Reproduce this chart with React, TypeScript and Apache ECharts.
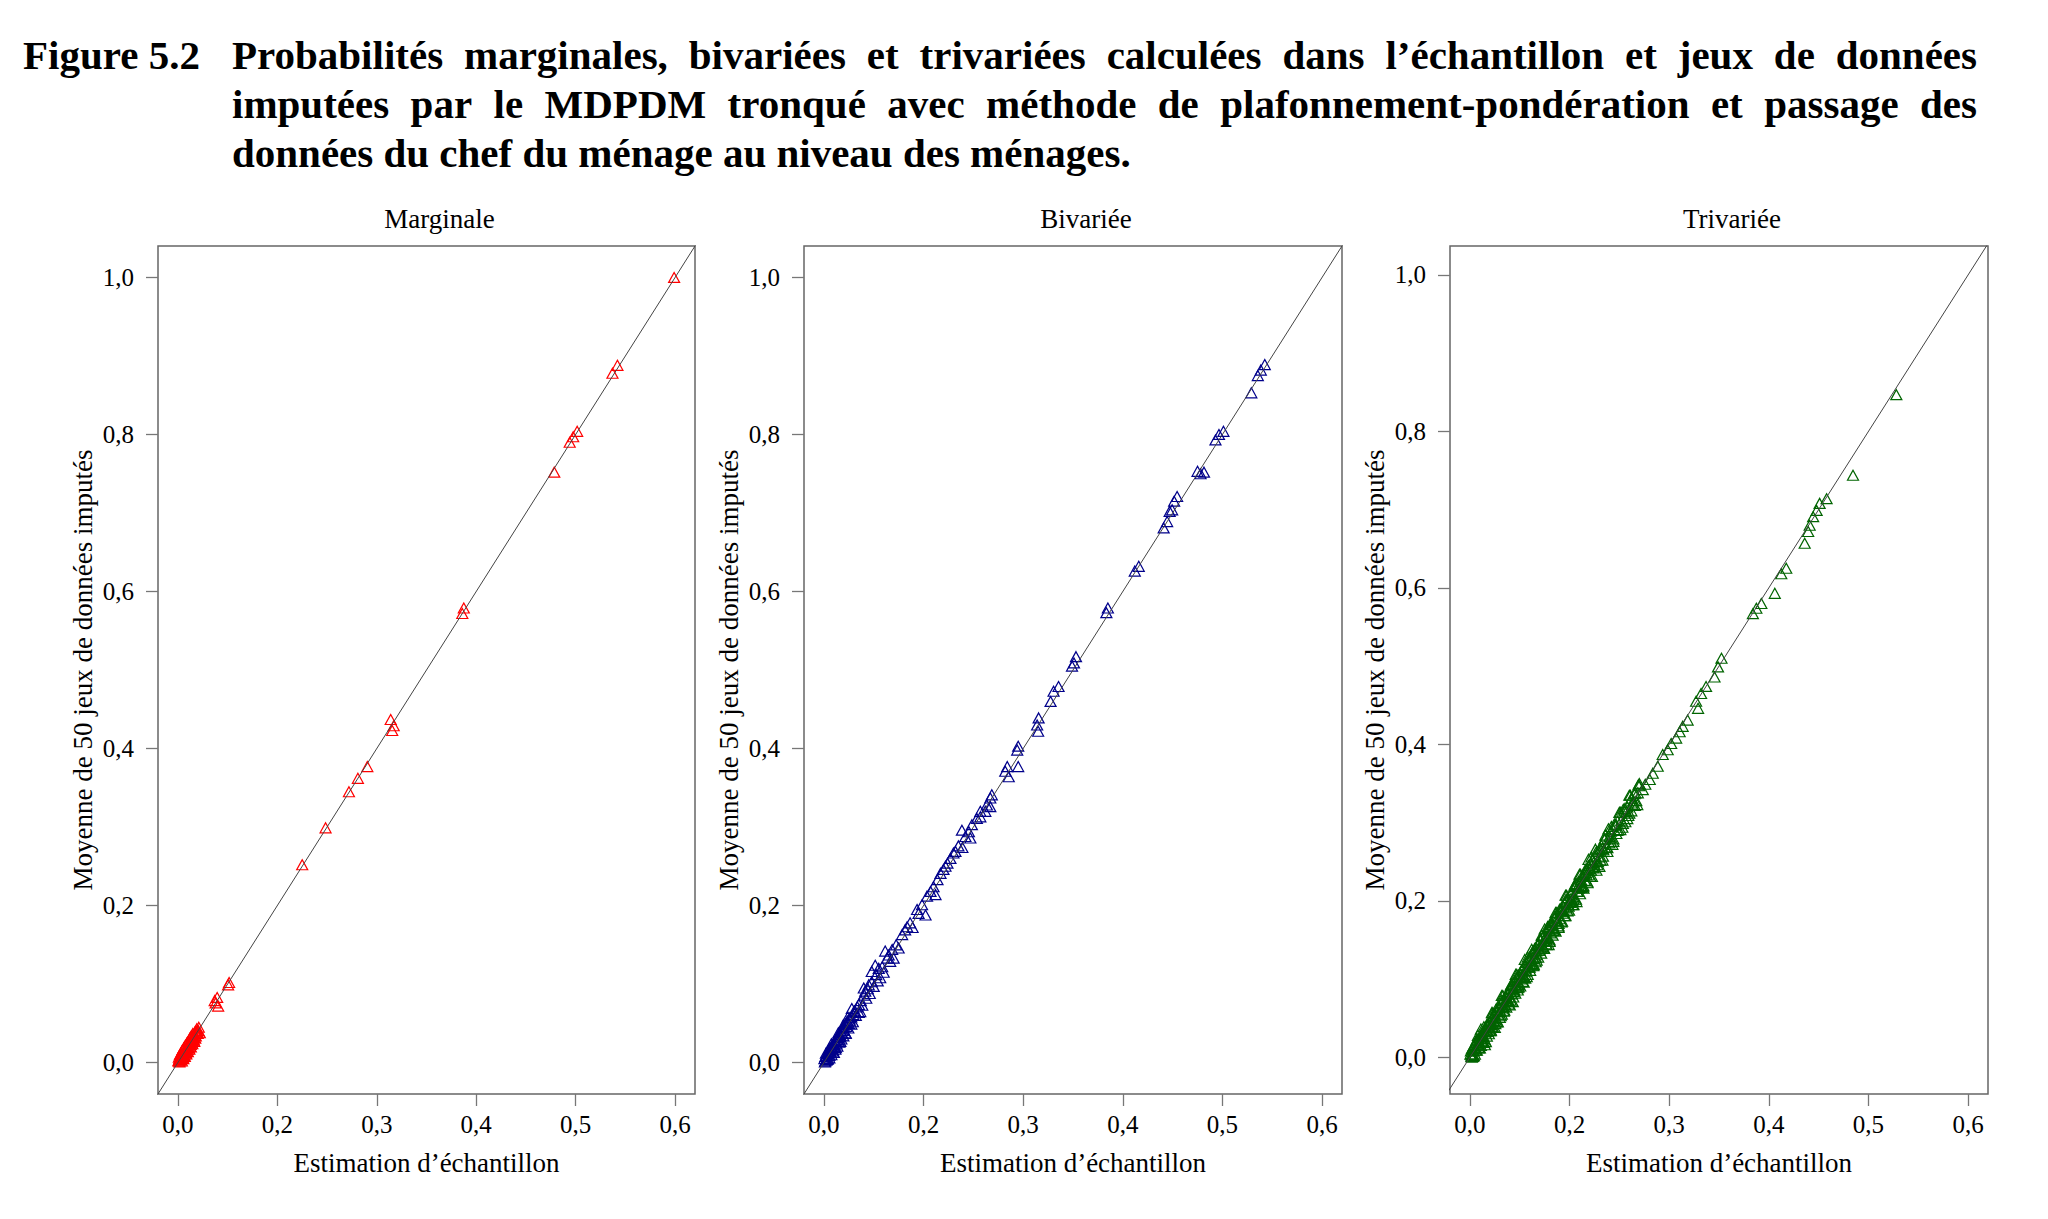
import React, { useEffect, useRef } from "react";
import * as echarts from "echarts";

// ---- Texts ----
const figureLabel = "Figure 5.2";
const captionLines = [
  "Probabilités marginales, bivariées et trivariées calculées dans l’échantillon et jeux de données",
  "imputées par le MDPDM tronqué avec méthode de plafonnement-pondération et passage des",
  "données du chef du ménage au niveau des ménages.",
];
const panelTitles = ["Marginale", "Bivariée", "Trivariée"];
const xAxisTitle = "Estimation d’échantillon";
const yAxisTitle = "Moyenne de 50 jeux de données imputés";

// ---- Ticks ----
const tickValues = [0, 0.2, 0.4, 0.6, 0.8, 1.0];
const xTickLabels = ["0,0", "0,2", "0,3", "0,4", "0,5", "0,6"];
const yTickLabels = ["0,0", "0,2", "0,4", "0,6", "0,8", "1,0"];

// ---- Data: [sample estimate, mean over imputed sets] ----
const marginal: [number, number][] = [
  [0.998, 1.0],
  [0.884, 0.888], [0.874, 0.878],
  [0.803, 0.804], [0.795, 0.797], [0.788, 0.79],
  [0.757, 0.752],
  [0.575, 0.579], [0.572, 0.572],
  [0.428, 0.437], [0.434, 0.429], [0.431, 0.423],
  [0.381, 0.377], [0.362, 0.362], [0.344, 0.345],
  [0.297, 0.299], [0.25, 0.252],
  [0.103, 0.102], [0.101, 0.099],
  [0.079, 0.083], [0.076, 0.076], [0.081, 0.072], [0.074, 0.079],
  [0.001, 0.002], [0.002, 0.007], [0.003, 0.001], [0.004, 0.01], [0.005, 0.004],
  [0.006, 0.012], [0.007, 0.006], [0.008, 0.002], [0.009, 0.016], [0.01, 0.01],
  [0.011, 0.005], [0.012, 0.019], [0.013, 0.013], [0.014, 0.008], [0.015, 0.022],
  [0.016, 0.016], [0.017, 0.011], [0.018, 0.025], [0.019, 0.02], [0.02, 0.014],
  [0.021, 0.027], [0.022, 0.023], [0.023, 0.017], [0.024, 0.031], [0.025, 0.026],
  [0.026, 0.02], [0.027, 0.034], [0.028, 0.029], [0.029, 0.024], [0.03, 0.037],
  [0.032, 0.032], [0.033, 0.027], [0.035, 0.04], [0.036, 0.034], [0.038, 0.043],
  [0.04, 0.037], [0.042, 0.045],
  [0.002, 0.003], [0.003, 0.005], [0.004, 0.002], [0.005, 0.007], [0.006, 0.004],
  [0.007, 0.009], [0.008, 0.006], [0.009, 0.011], [0.01, 0.007], [0.011, 0.013],
  [0.012, 0.009], [0.013, 0.015], [0.014, 0.011], [0.015, 0.017], [0.016, 0.013],
  [0.017, 0.019], [0.018, 0.015], [0.019, 0.021], [0.02, 0.017], [0.021, 0.023],
  [0.022, 0.019], [0.023, 0.025], [0.024, 0.021], [0.025, 0.027], [0.026, 0.023],
  [0.027, 0.029], [0.028, 0.025], [0.029, 0.031], [0.03, 0.027], [0.031, 0.033],
  [0.032, 0.029], [0.034, 0.035], [0.035, 0.031], [0.037, 0.038], [0.039, 0.04],
  [0.041, 0.041], [0.044, 0.038],
];

const bivariate: [number, number][] = [
  [0.885, 0.889], [0.877, 0.882], [0.871, 0.875], [0.858, 0.853],
  [0.802, 0.804], [0.793, 0.8], [0.786, 0.793],
  [0.763, 0.752], [0.756, 0.75], [0.75, 0.753],
  [0.709, 0.721], [0.703, 0.715], [0.699, 0.704], [0.694, 0.702],
  [0.689, 0.689], [0.682, 0.681],
  [0.632, 0.632], [0.624, 0.626],
  [0.57, 0.579], [0.567, 0.573],
  [0.506, 0.517], [0.502, 0.509], [0.498, 0.505],
  [0.471, 0.479], [0.461, 0.473], [0.455, 0.46],
  [0.431, 0.439], [0.428, 0.43], [0.43, 0.422],
  [0.39, 0.403], [0.388, 0.398],
  [0.368, 0.377], [0.364, 0.371], [0.39, 0.377], [0.371, 0.364],
  [0.337, 0.341], [0.334, 0.337], [0.327, 0.328],
  [0.324, 0.32], [0.334, 0.326], [0.314, 0.313], [0.314, 0.32], [0.307, 0.311],
  [0.297, 0.303], [0.291, 0.294], [0.284, 0.288], [0.294, 0.286], [0.277, 0.296],
  [0.26, 0.267], [0.254, 0.26], [0.264, 0.269],
  [0.244, 0.25], [0.234, 0.241], [0.24, 0.246],
  [0.22, 0.224], [0.214, 0.218], [0.224, 0.214],
  [0.197, 0.201], [0.187, 0.195], [0.204, 0.188], [0.19, 0.19],
  [0.163, 0.169], [0.157, 0.163], [0.167, 0.173],
  [0.137, 0.144], [0.13, 0.137], [0.14, 0.133], [0.123, 0.142], [0.133, 0.129],
  [0.11, 0.12], [0.103, 0.124], [0.113, 0.108], [0.096, 0.116],
  [0.09, 0.099], [0.083, 0.091], [0.08, 0.095],
  [0.07, 0.074], [0.063, 0.065], [0.059, 0.061], [0.056, 0.069], [0.073, 0.065],
  [0.052, 0.057], [0.05, 0.05], [0.047, 0.053], [0.045, 0.046], [0.043, 0.049],
  [0.04, 0.041], [0.038, 0.045], [0.036, 0.038], [0.034, 0.04], [0.032, 0.033],
  [0.03, 0.036], [0.028, 0.029], [0.026, 0.032], [0.025, 0.024], [0.023, 0.028],
  [0.021, 0.02], [0.019, 0.025], [0.018, 0.016], [0.016, 0.021], [0.014, 0.013],
  [0.012, 0.018], [0.011, 0.009], [0.009, 0.014], [0.008, 0.005], [0.006, 0.011],
  [0.005, 0.003], [0.003, 0.008], [0.002, 0.001], [0.001, 0.005], [0.004, 0.012],
  [0.01, 0.017], [0.015, 0.024], [0.02, 0.013], [0.024, 0.019], [0.029, 0.038],
  [0.033, 0.027], [0.039, 0.048], [0.044, 0.037], [0.048, 0.058], [0.055, 0.049],
  [0.003, 0.002], [0.005, 0.009], [0.007, 0.004], [0.009, 0.012], [0.011, 0.006],
  [0.013, 0.015], [0.015, 0.01], [0.017, 0.019], [0.019, 0.013], [0.021, 0.023],
  [0.023, 0.017], [0.025, 0.029], [0.027, 0.021], [0.029, 0.032], [0.031, 0.026],
  [0.033, 0.035], [0.035, 0.03], [0.037, 0.041], [0.039, 0.034], [0.041, 0.045],
  [0.043, 0.038], [0.046, 0.051], [0.049, 0.044], [0.052, 0.054], [0.055, 0.058],
  [0.058, 0.052], [0.061, 0.066], [0.064, 0.06], [0.067, 0.071], [0.07, 0.064],
  [0.074, 0.079], [0.077, 0.073], [0.081, 0.086], [0.085, 0.082], [0.088, 0.094],
  [0.092, 0.088], [0.096, 0.103], [0.1, 0.097], [0.105, 0.112], [0.108, 0.104],
  [0.117, 0.122], [0.12, 0.115], [0.127, 0.133], [0.145, 0.15], [0.15, 0.146],
  [0.173, 0.178], [0.178, 0.172], [0.207, 0.212], [0.228, 0.233], [0.248, 0.254],
  [0.27, 0.276], [0.278, 0.274],
];

const trivariate: [number, number][] = [
  [0.856, 0.847],
  [0.769, 0.744],
  [0.716, 0.714], [0.702, 0.708], [0.696, 0.699], [0.689, 0.691], [0.682, 0.68],
  [0.679, 0.672], [0.672, 0.657],
  [0.635, 0.625], [0.625, 0.618], [0.612, 0.593],
  [0.585, 0.58], [0.575, 0.574], [0.568, 0.567],
  [0.505, 0.51], [0.498, 0.499], [0.491, 0.486],
  [0.474, 0.474], [0.464, 0.465], [0.454, 0.455], [0.458, 0.446],
  [0.437, 0.431], [0.427, 0.423], [0.421, 0.416], [0.414, 0.408], [0.404, 0.401],
  [0.397, 0.393], [0.387, 0.387],
  [0.377, 0.372], [0.367, 0.363], [0.361, 0.355], [0.347, 0.342], [0.337, 0.338],
  [0.327, 0.325], [0.32, 0.312], [0.307, 0.299], [0.294, 0.286], [0.28, 0.274],
  [0.267, 0.257], [0.26, 0.244],
  [0.001, 0.004], [0.003, 0.001], [0.004, 0.011], [0.006, 0.002], [0.007, 0.008],
  [0.008, 0.014], [0.01, 0.004], [0.011, 0.011], [0.012, 0.019], [0.014, 0.009],
  [0.015, 0.016], [0.016, 0.023], [0.018, 0.012], [0.019, 0.018], [0.02, 0.026],
  [0.022, 0.015], [0.023, 0.021], [0.024, 0.031], [0.026, 0.019], [0.027, 0.027],
  [0.028, 0.034], [0.03, 0.022], [0.031, 0.031], [0.032, 0.038], [0.034, 0.027],
  [0.035, 0.033], [0.037, 0.043], [0.038, 0.03], [0.039, 0.037], [0.041, 0.047],
  [0.042, 0.034], [0.043, 0.042], [0.045, 0.051], [0.046, 0.039], [0.048, 0.046],
  [0.049, 0.056], [0.051, 0.043], [0.052, 0.05], [0.054, 0.06], [0.055, 0.046],
  [0.057, 0.055], [0.058, 0.064], [0.06, 0.051], [0.061, 0.059], [0.063, 0.07],
  [0.064, 0.055], [0.066, 0.063], [0.067, 0.073], [0.069, 0.06], [0.07, 0.068],
  [0.072, 0.079], [0.073, 0.064], [0.075, 0.072], [0.076, 0.083], [0.078, 0.068],
  [0.079, 0.077], [0.081, 0.088], [0.082, 0.073], [0.084, 0.081], [0.085, 0.092],
  [0.087, 0.077], [0.088, 0.086], [0.09, 0.097], [0.091, 0.082], [0.093, 0.091],
  [0.095, 0.102], [0.096, 0.086], [0.098, 0.095], [0.1, 0.107], [0.101, 0.091],
  [0.103, 0.1], [0.105, 0.112], [0.106, 0.097], [0.108, 0.104], [0.11, 0.118],
  [0.111, 0.101], [0.113, 0.11], [0.115, 0.123], [0.116, 0.106], [0.118, 0.115],
  [0.12, 0.128], [0.121, 0.111], [0.123, 0.12], [0.125, 0.133], [0.127, 0.117],
  [0.128, 0.126], [0.13, 0.139], [0.132, 0.122], [0.134, 0.131], [0.136, 0.144],
  [0.137, 0.128], [0.139, 0.137], [0.141, 0.15], [0.143, 0.133], [0.145, 0.142],
  [0.147, 0.155], [0.149, 0.139], [0.151, 0.148], [0.153, 0.161], [0.154, 0.144],
  [0.156, 0.153], [0.158, 0.166], [0.16, 0.15], [0.162, 0.159], [0.164, 0.172],
  [0.166, 0.156], [0.168, 0.165], [0.17, 0.178], [0.172, 0.161], [0.174, 0.171],
  [0.176, 0.184], [0.178, 0.168], [0.18, 0.177], [0.183, 0.19], [0.185, 0.174],
  [0.187, 0.184], [0.19, 0.197], [0.192, 0.181], [0.194, 0.191], [0.197, 0.204],
  [0.199, 0.188], [0.201, 0.198], [0.204, 0.211], [0.206, 0.195], [0.208, 0.205],
  [0.211, 0.218], [0.213, 0.202], [0.216, 0.212], [0.218, 0.225], [0.221, 0.209],
  [0.223, 0.219], [0.226, 0.232], [0.228, 0.216], [0.231, 0.226], [0.234, 0.24],
  [0.236, 0.223], [0.239, 0.233], [0.242, 0.248], [0.245, 0.231], [0.248, 0.242],
  [0.251, 0.257], [0.254, 0.239], [0.257, 0.25], [0.262, 0.266], [0.266, 0.252],
  [0.271, 0.279], [0.276, 0.263], [0.283, 0.289], [0.288, 0.279], [0.296, 0.302],
  [0.302, 0.291], [0.311, 0.318], [0.316, 0.305], [0.324, 0.331], [0.331, 0.322],
  [0.34, 0.347], [0.352, 0.349],
  [0.004, 0.0], [0.008, 0.015], [0.012, 0.009], [0.016, 0.028], [0.02, 0.012],
  [0.024, 0.026], [0.028, 0.039], [0.032, 0.02], [0.036, 0.041], [0.04, 0.034],
  [0.044, 0.057], [0.048, 0.047], [0.052, 0.061], [0.056, 0.045], [0.06, 0.064],
  [0.064, 0.079], [0.068, 0.059], [0.072, 0.072], [0.076, 0.082], [0.08, 0.067],
  [0.084, 0.094], [0.088, 0.084], [0.092, 0.106], [0.096, 0.089], [0.1, 0.103],
  [0.104, 0.112], [0.108, 0.096], [0.112, 0.113], [0.116, 0.128], [0.12, 0.115],
  [0.124, 0.138], [0.128, 0.118], [0.132, 0.128], [0.136, 0.143], [0.14, 0.137],
  [0.144, 0.156], [0.148, 0.14], [0.152, 0.154], [0.156, 0.167], [0.16, 0.148],
  [0.164, 0.169], [0.168, 0.162], [0.172, 0.185], [0.176, 0.175], [0.18, 0.189],
  [0.184, 0.173], [0.188, 0.192], [0.192, 0.207], [0.196, 0.187], [0.2, 0.2],
  [0.204, 0.21], [0.208, 0.195], [0.212, 0.222], [0.216, 0.212], [0.22, 0.234],
  [0.224, 0.217], [0.228, 0.231], [0.232, 0.24], [0.236, 0.224], [0.24, 0.241],
  [0.244, 0.256], [0.248, 0.243], [0.252, 0.266], [0.256, 0.246], [0.26, 0.256],
  [0.264, 0.271], [0.268, 0.265], [0.272, 0.284], [0.276, 0.268], [0.28, 0.282],
  [0.284, 0.295], [0.288, 0.276], [0.292, 0.297], [0.296, 0.29], [0.3, 0.313],
  [0.304, 0.303], [0.308, 0.317], [0.312, 0.301], [0.316, 0.32], [0.32, 0.335],
  [0.324, 0.315], [0.328, 0.328], [0.332, 0.338], [0.336, 0.323], [0.34, 0.35],
  [0.002, 0.008], [0.006, 0.001], [0.01, 0.011], [0.014, 0.023], [0.018, 0.013],
  [0.022, 0.036], [0.026, 0.024], [0.03, 0.016], [0.034, 0.042], [0.038, 0.041],
  [0.042, 0.035], [0.046, 0.057], [0.05, 0.038], [0.054, 0.059], [0.058, 0.058],
  [0.062, 0.053], [0.066, 0.079], [0.07, 0.067], [0.074, 0.081], [0.078, 0.072],
  [0.082, 0.092], [0.086, 0.071], [0.09, 0.092], [0.094, 0.106], [0.098, 0.09],
  [0.102, 0.106], [0.106, 0.105], [0.11, 0.125], [0.114, 0.103], [0.118, 0.124],
  [0.122, 0.118], [0.126, 0.135], [0.13, 0.136], [0.134, 0.124], [0.138, 0.139],
  [0.142, 0.151], [0.146, 0.141], [0.15, 0.164], [0.154, 0.152], [0.158, 0.144],
  [0.162, 0.17], [0.166, 0.169], [0.17, 0.163], [0.174, 0.185], [0.178, 0.166],
  [0.182, 0.187], [0.186, 0.186], [0.19, 0.181], [0.194, 0.207], [0.198, 0.195],
  [0.202, 0.209], [0.206, 0.2], [0.21, 0.22], [0.214, 0.199], [0.218, 0.22],
  [0.222, 0.234], [0.226, 0.218], [0.23, 0.234], [0.234, 0.233], [0.238, 0.253],
  [0.242, 0.231], [0.246, 0.252], [0.25, 0.246], [0.254, 0.263], [0.258, 0.264],
  [0.262, 0.252], [0.266, 0.267], [0.27, 0.279], [0.274, 0.269], [0.278, 0.292],
  [0.282, 0.28], [0.286, 0.272], [0.29, 0.298], [0.294, 0.297], [0.298, 0.291],
  [0.302, 0.313], [0.306, 0.294], [0.31, 0.315], [0.314, 0.314], [0.318, 0.309],
  [0.322, 0.335], [0.326, 0.323], [0.33, 0.337], [0.334, 0.328], [0.338, 0.348],
  [0.003, 0.003], [0.008, 0.002], [0.013, 0.021], [0.018, 0.016], [0.023, 0.027],
  [0.028, 0.019], [0.033, 0.036], [0.038, 0.045], [0.043, 0.039], [0.048, 0.049],
  [0.053, 0.045], [0.058, 0.064], [0.063, 0.073], [0.068, 0.065], [0.073, 0.075],
  [0.078, 0.071], [0.083, 0.088], [0.088, 0.087], [0.093, 0.102], [0.098, 0.093],
  [0.103, 0.103], [0.108, 0.102], [0.113, 0.121], [0.118, 0.116], [0.123, 0.127],
  [0.128, 0.119], [0.133, 0.136], [0.138, 0.145], [0.143, 0.139], [0.148, 0.149],
  [0.153, 0.145], [0.158, 0.164], [0.163, 0.173], [0.168, 0.165], [0.173, 0.175],
  [0.178, 0.171], [0.183, 0.188], [0.188, 0.187], [0.193, 0.202], [0.198, 0.193],
  [0.203, 0.203], [0.208, 0.202], [0.213, 0.221], [0.218, 0.216], [0.223, 0.227],
  [0.228, 0.219], [0.233, 0.236], [0.238, 0.245], [0.243, 0.239], [0.248, 0.249],
];

const panelData = [marginal, bivariate, trivariate];
const pointColors = ["#ff0000", "#00008b", "#006400"];

// ---- Layout ----
const WIDTH = 2048;
const HEIGHT = 1219;
const SERIF = '"Liberation Serif", "Times New Roman", serif';
const gridBoxes = [
  { left: 158, top: 246, width: 537, height: 848 },
  { left: 804, top: 246, width: 538, height: 848 },
  { left: 1450, top: 246, width: 538, height: 848 },
];
const PANEL_TITLE_SHIFT = 13;
const xRange: [number, number] = [-0.04, 1.04];
const yRanges: [number, number][] = [
  [-0.04, 1.04],
  [-0.04, 1.04],
  [-0.047, 1.037],
];
const CAPTION_LEFT = 232;
const CAPTION_RIGHT = 1977;
const CAPTION_Y = [55, 104, 153];
const CAPTION_SIZE = 41;

function captionGraphics(): any[] {
  const ctx = document.createElement("canvas").getContext("2d")!;
  ctx.font = `bold ${CAPTION_SIZE}px ${SERIF}`;
  const base = {
    fill: "#000",
    fontSize: CAPTION_SIZE,
    fontWeight: "bold",
    fontFamily: SERIF,
    verticalAlign: "middle",
    align: "left",
  };
  const out: any[] = [
    { type: "text", x: 23, y: CAPTION_Y[0], style: { ...base, text: figureLabel } },
  ];
  captionLines.forEach((line, i) => {
    const words = line.split(" ");
    const widths = words.map((w) => ctx.measureText(w).width);
    const total = widths.reduce((a, b) => a + b, 0);
    const justify = i < captionLines.length - 1;
    const gap = justify
      ? (CAPTION_RIGHT - CAPTION_LEFT - total) / (words.length - 1)
      : ctx.measureText(" ").width;
    let x = CAPTION_LEFT;
    words.forEach((w, k) => {
      out.push({ type: "text", x, y: CAPTION_Y[i], style: { ...base, text: w } });
      x += widths[k] + gap;
    });
  });
  return out;
}

function buildOption(): echarts.EChartsOption {
  const tickLabelStyle = { fontFamily: SERIF, fontSize: 25, color: "#000" };
  const nameStyle = { fontFamily: SERIF, fontSize: 27, color: "#000" };
  const tickLine = { color: "#777", width: 1.3 };

  const panelTitleGraphics = panelTitles.map((t, i) => ({
    type: "text",
    x: gridBoxes[i].left + gridBoxes[i].width / 2 + PANEL_TITLE_SHIFT,
    y: 219,
    style: {
      text: t,
      fill: "#000",
      fontSize: 27,
      fontFamily: SERIF,
      align: "center",
      verticalAlign: "middle",
    },
  }));

  const series: any[] = [];
  panelData.forEach((pts, i) => {
    series.push({
      type: "scatter",
      xAxisIndex: i,
      yAxisIndex: i,
      data: pts,
      symbol: "triangle",
      symbolSize: [11, 10],
      itemStyle: {
        color: "rgba(0,0,0,0)",
        borderColor: pointColors[i],
        borderWidth: 1.2,
        opacity: 1,
      },
      silent: true,
      z: 2,
    });
    // identity reference line, clipped to the plotting region
    series.push({
      type: "line",
      xAxisIndex: i,
      yAxisIndex: i,
      data: [
        [xRange[0] - 0.1, xRange[0] - 0.1],
        [xRange[1] + 0.1, xRange[1] + 0.1],
      ],
      symbol: "none",
      clip: true,
      lineStyle: { color: "#444", width: 1 },
      silent: true,
      z: 3,
    });
  });

  return {
    animation: false,
    backgroundColor: "#fff",
    grid: gridBoxes.map((g) => ({
      ...g,
      show: true,
      borderColor: "#666",
      borderWidth: 1.5,
      backgroundColor: "transparent",
      containLabel: false,
    })),
    xAxis: gridBoxes.map((_, i) => ({
      gridIndex: i,
      type: "value",
      min: xRange[0],
      max: xRange[1],
      axisLine: { show: false, onZero: false },
      splitLine: { show: false },
      axisTick: { show: true, inside: false, length: 12, lineStyle: tickLine, customValues: tickValues },
      axisLabel: {
        ...tickLabelStyle,
        margin: 18,
        customValues: tickValues,
        formatter: (v: number) => xTickLabels[Math.round(v / 0.2)] ?? "",
      },
      name: xAxisTitle,
      nameLocation: "middle",
      nameGap: 55,
      nameTextStyle: nameStyle,
    })) as any,
    yAxis: gridBoxes.map((_, i) => ({
      gridIndex: i,
      type: "value",
      min: yRanges[i][0],
      max: yRanges[i][1],
      axisLine: { show: false, onZero: false },
      splitLine: { show: false },
      axisTick: { show: true, inside: false, length: 12, lineStyle: tickLine, customValues: tickValues },
      axisLabel: {
        ...tickLabelStyle,
        margin: 24,
        customValues: tickValues,
        formatter: (v: number) => yTickLabels[Math.round(v / 0.2)] ?? "",
      },
      name: yAxisTitle,
      nameLocation: "middle",
      nameGap: 62,
      nameTextStyle: nameStyle,
    })) as any,
    graphic: [...captionGraphics(), ...panelTitleGraphics] as any,
    series,
  };
}

export default function App() {
  const ref = useRef<HTMLDivElement>(null);
  useEffect(() => {
    document.body.style.margin = "0";
    if (!ref.current) return;
    const chart = echarts.init(ref.current, undefined, { renderer: "svg" });
    chart.setOption(buildOption());
    return () => chart.dispose();
  }, []);
  return <div ref={ref} style={{ width: WIDTH, height: HEIGHT, background: "#fff" }} />;
}
